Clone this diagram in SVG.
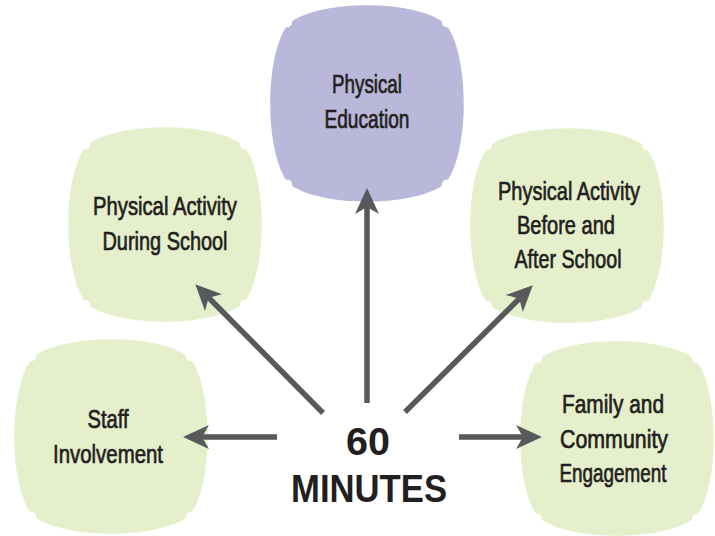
<svg xmlns="http://www.w3.org/2000/svg" xmlns:xlink="http://www.w3.org/1999/xlink" width="715" height="536" viewBox="0 0 715 536">
<style>
.green{fill:#e6efcc}
.purple{fill:#b9b8db}
.lbl{font-family:"Liberation Sans",Arial,sans-serif;font-size:26.5px;fill:#231f20;stroke:#231f20;stroke-width:0.7;text-anchor:middle}
.big{font-family:"Liberation Sans",Arial,sans-serif;font-size:38px;font-weight:bold;fill:#231f20;text-anchor:middle}
.arr{stroke:#58595b;stroke-width:5.5;fill:none;marker-end:url(#head)}
</style>
<defs>
<path id="blob" d="M22,16 C54,-5 140,-5 172,16 A5,5 0 0 0 178,22 C199,54 199,141 178,173 A5,5 0 0 0 172,179 C140,200 54,200 22,179 A5,5 0 0 0 16,173 C-5,141 -5,54 16,22 A5,5 0 0 0 22,16 Z"/>
<marker id="head" markerUnits="userSpaceOnUse" markerWidth="28" markerHeight="26" viewBox="0 0 28 26" refX="16" refY="13" orient="auto">
<path d="M27,13 L1,1 L8,13 L1,25 Z" fill="#58595b"/>
</marker>
</defs>
<g id="physical-education">
<use xlink:href="#blob" class="purple" transform="translate(270,5) scale(1,1.01)"/>
<text class="lbl" x="367" y="93" textLength="70" lengthAdjust="spacingAndGlyphs">Physical</text>
<text class="lbl" x="367" y="128" textLength="85" lengthAdjust="spacingAndGlyphs">Education</text>
</g>
<g id="pa-during-school">
<use xlink:href="#blob" class="green" transform="translate(68,127)"/>
<text class="lbl" x="165" y="215" textLength="144" lengthAdjust="spacingAndGlyphs">Physical Activity</text>
<text class="lbl" x="165" y="250" textLength="125" lengthAdjust="spacingAndGlyphs">During School</text>
</g>
<g id="pa-before-after">
<use xlink:href="#blob" class="green" transform="translate(470,128)"/>
<text class="lbl" x="569" y="200" textLength="142" lengthAdjust="spacingAndGlyphs">Physical Activity</text>
<text class="lbl" x="566" y="234" textLength="98" lengthAdjust="spacingAndGlyphs">Before and</text>
<text class="lbl" x="568" y="268" textLength="107" lengthAdjust="spacingAndGlyphs">After School</text>
</g>
<g id="staff-involvement">
<use xlink:href="#blob" class="green" transform="translate(14,339)"/>
<text class="lbl" x="108" y="428" textLength="41" lengthAdjust="spacingAndGlyphs">Staff</text>
<text class="lbl" x="108" y="463" textLength="110" lengthAdjust="spacingAndGlyphs">Involvement</text>
</g>
<g id="family-community">
<use xlink:href="#blob" class="green" transform="translate(520,341)"/>
<text class="lbl" x="613" y="413" textLength="102" lengthAdjust="spacingAndGlyphs">Family and</text>
<text class="lbl" x="614" y="448" textLength="108" lengthAdjust="spacingAndGlyphs">Community</text>
<text class="lbl" x="613" y="482" textLength="107" lengthAdjust="spacingAndGlyphs">Engagement</text>
</g>
<g id="sixty-minutes">
<text class="big" x="368" y="455" textLength="44" lengthAdjust="spacingAndGlyphs">60</text>
<text class="big" x="369" y="502" textLength="156" lengthAdjust="spacingAndGlyphs">MINUTES</text>
</g>
<g id="connectors">
<line class="arr" x1="367" y1="403" x2="367" y2="199"/>
<line class="arr" x1="323" y1="413" x2="203" y2="292"/>
<line class="arr" x1="405" y1="412" x2="525" y2="293"/>
<line class="arr" x1="277" y1="437" x2="194" y2="437"/>
<line class="arr" x1="459" y1="437" x2="531" y2="437"/>
</g>
</svg>
